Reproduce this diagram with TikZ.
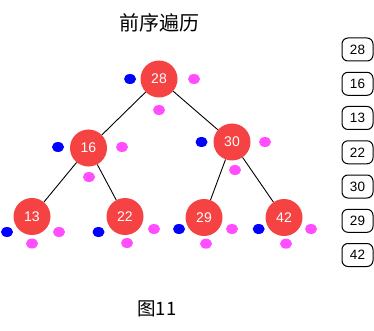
\documentclass[tikz,border=0pt]{standalone}
\usepackage{fontspec}
\setmainfont{Liberation Sans}
\newfontfamily\cjk{Noto Sans CJK SC}
\usetikzlibrary{shapes.geometric}
\definecolor{nodered}{RGB}{245,66,66}
\definecolor{dotblue}{RGB}{0,0,255}
\definecolor{dotpink}{RGB}{255,77,255}
\begin{document}
\begin{tikzpicture}[x=1pt,y=-1pt,
  tnode/.style={circle,fill=nodered,draw=none,minimum size=37pt,inner sep=0pt,text=white,font=\fontsize{14}{14}\selectfont},
  bdot/.style={ellipse,fill=dotblue,minimum width=12pt,minimum height=10pt,inner sep=0pt},
  pdot/.style={ellipse,fill=dotpink,minimum width=12pt,minimum height=10pt,inner sep=0pt},
  obox/.style={draw=black,line width=1pt,rounded corners=6pt,minimum width=31pt,minimum height=23pt,inner sep=0pt,font=\fontsize{13.5}{13.5}\selectfont},
  edge/.style={draw=black,line width=0.9pt}]
\useasboundingbox (0,0) rectangle (374,331);
\node[font=\cjk\fontsize{20}{20}\selectfont] (title) at (159,23) {前序遍历};
\node[font=\cjk\fontsize{18.5}{18.5}\selectfont] (cap) at (157,309) {图11};
% tree nodes
\node[tnode] (n28) at (159,79) {28};
\node[tnode] (n16) at (88.5,148) {16};
\node[tnode] (n30) at (232,142) {30};
\node[tnode] (n13) at (32,216.5) {13};
\node[tnode] (n22) at (125,216.5) {22};
\node[tnode] (n29) at (204,217.5) {29};
\node[tnode] (n42) at (284,217.5) {42};
\draw[edge] (n28) -- (n16);
\draw[edge] (n28) -- (n30);
\draw[edge] (n16) -- (n13);
\draw[edge] (n16) -- (n22);
\draw[edge] (n30) -- (n29);
\draw[edge] (n30) -- (n42);
% dots
\node[bdot] (b28) at (130,79) {};
\node[pdot] (r28) at (194,79) {};
\node[pdot] (d28) at (159,110) {};
\node[bdot] (b16) at (58,147) {};
\node[pdot] (r16) at (122,147) {};
\node[pdot] (d16) at (89,177) {};
\node[bdot] (b30) at (201.5,142) {};
\node[pdot] (r30) at (265,142) {};
\node[pdot] (d30) at (235,170) {};
\node[bdot] (b13) at (7,232) {};
\node[pdot] (r13) at (59,232) {};
\node[pdot] (d13) at (32,243.5) {};
\node[bdot] (b22) at (98.5,232) {};
\node[pdot] (r22) at (154,229) {};
\node[pdot] (d22) at (127,243) {};
\node[bdot] (b29) at (179,229) {};
\node[pdot] (r29) at (232,229) {};
\node[pdot] (d29) at (206,243.7) {};
\node[bdot] (b42) at (258.7,229) {};
\node[pdot] (r42) at (311,229) {};
\node[pdot] (d42) at (286,243.7) {};
% output boxes
\node[obox] (o1) at (357.5,49.5) {28};
\node[obox] (o2) at (357.5,83.8) {16};
\node[obox] (o3) at (357.5,118) {13};
\node[obox] (o4) at (357.5,152.3) {22};
\node[obox] (o5) at (357.5,186.5) {30};
\node[obox] (o6) at (357.5,220.8) {29};
\node[obox] (o7) at (357.5,255) {42};
\end{tikzpicture}
\end{document}
